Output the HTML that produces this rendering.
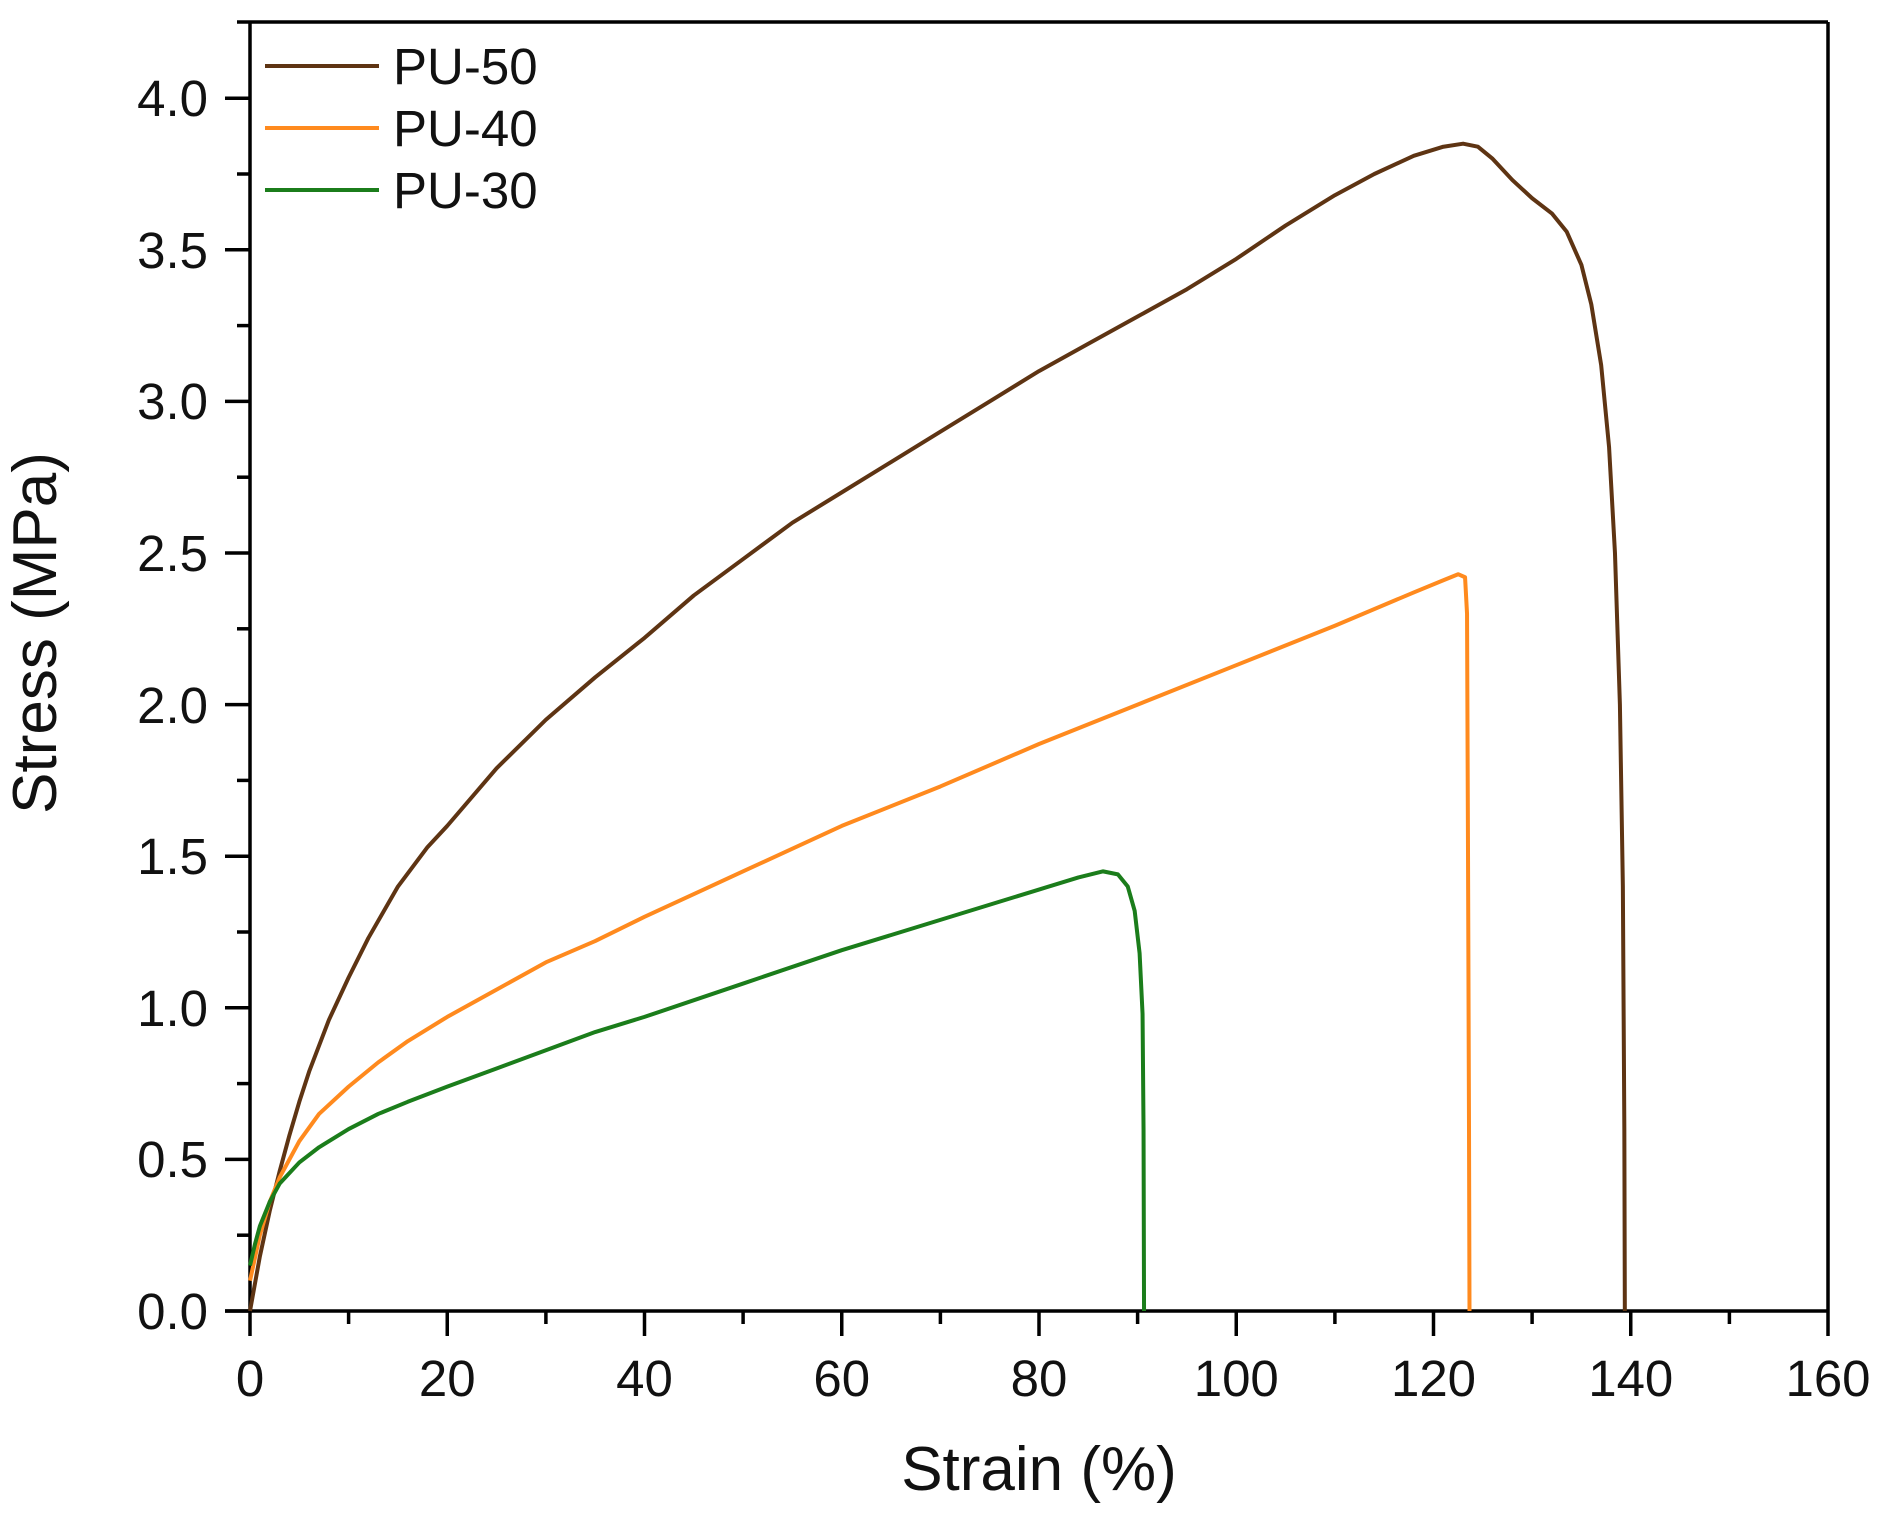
<!DOCTYPE html>
<html><head><meta charset="utf-8"><style>
html,body{margin:0;padding:0;background:#fff;}
svg{display:block;font-family:"Liberation Sans",sans-serif;}
</style></head><body>
<svg width="1881" height="1522" viewBox="0 0 1881 1522" xmlns="http://www.w3.org/2000/svg">
<rect width="1881" height="1522" fill="#fff"/>
<g stroke="#000" stroke-width="3.5" fill="none">
<line x1="250" y1="22" x2="250" y2="1311"/>
<line x1="237" y1="22" x2="1828" y2="22"/>
<line x1="225" y1="1311" x2="1828" y2="1311"/>
<line x1="1828" y1="22" x2="1828" y2="1336"/>
<line x1="225" y1="1311" x2="250" y2="1311"/>
<line x1="225" y1="1159.4" x2="250" y2="1159.4"/>
<line x1="225" y1="1007.8" x2="250" y2="1007.8"/>
<line x1="225" y1="856.2" x2="250" y2="856.2"/>
<line x1="225" y1="704.6" x2="250" y2="704.6"/>
<line x1="225" y1="553" x2="250" y2="553"/>
<line x1="225" y1="401.4" x2="250" y2="401.4"/>
<line x1="225" y1="249.8" x2="250" y2="249.8"/>
<line x1="225" y1="98.2" x2="250" y2="98.2"/>
<line x1="237" y1="1235.2" x2="250" y2="1235.2"/>
<line x1="237" y1="1083.6" x2="250" y2="1083.6"/>
<line x1="237" y1="932" x2="250" y2="932"/>
<line x1="237" y1="780.4" x2="250" y2="780.4"/>
<line x1="237" y1="628.8" x2="250" y2="628.8"/>
<line x1="237" y1="477.2" x2="250" y2="477.2"/>
<line x1="237" y1="325.6" x2="250" y2="325.6"/>
<line x1="237" y1="174" x2="250" y2="174"/>
<line x1="250" y1="1311" x2="250" y2="1336"/>
<line x1="447.25" y1="1311" x2="447.25" y2="1336"/>
<line x1="644.5" y1="1311" x2="644.5" y2="1336"/>
<line x1="841.75" y1="1311" x2="841.75" y2="1336"/>
<line x1="1039" y1="1311" x2="1039" y2="1336"/>
<line x1="1236.25" y1="1311" x2="1236.25" y2="1336"/>
<line x1="1433.5" y1="1311" x2="1433.5" y2="1336"/>
<line x1="1630.75" y1="1311" x2="1630.75" y2="1336"/>
<line x1="348.6" y1="1311" x2="348.6" y2="1324"/>
<line x1="545.9" y1="1311" x2="545.9" y2="1324"/>
<line x1="743.1" y1="1311" x2="743.1" y2="1324"/>
<line x1="940.4" y1="1311" x2="940.4" y2="1324"/>
<line x1="1137.6" y1="1311" x2="1137.6" y2="1324"/>
<line x1="1334.9" y1="1311" x2="1334.9" y2="1324"/>
<line x1="1532.1" y1="1311" x2="1532.1" y2="1324"/>
<line x1="1729.4" y1="1311" x2="1729.4" y2="1324"/>
</g>
<g font-size="51" text-anchor="end" fill="#111">
<text x="208" y="1329">0.0</text>
<text x="208" y="1177">0.5</text>
<text x="208" y="1026">1.0</text>
<text x="208" y="874">1.5</text>
<text x="208" y="723">2.0</text>
<text x="208" y="571">2.5</text>
<text x="208" y="419">3.0</text>
<text x="208" y="268">3.5</text>
<text x="208" y="116">4.0</text>
</g>
<g font-size="51" text-anchor="middle" fill="#111">
<text x="250" y="1396">0</text>
<text x="447.25" y="1396">20</text>
<text x="644.5" y="1396">40</text>
<text x="841.75" y="1396">60</text>
<text x="1039" y="1396">80</text>
<text x="1236.25" y="1396">100</text>
<text x="1433.5" y="1396">120</text>
<text x="1630.75" y="1396">140</text>
<text x="1828" y="1396">160</text>
</g>
<text x="1039" y="1490" font-size="62" text-anchor="middle" fill="#111">Strain (%)</text>
<text transform="translate(56,633) rotate(-90)" font-size="62" text-anchor="middle" fill="#111">Stress (MPa)</text>
<g stroke-width="4">
<line x1="265" y1="66" x2="379" y2="66" stroke="#5e3413"/>
<line x1="265" y1="128" x2="379" y2="128" stroke="#ff8a1e"/>
<line x1="265" y1="190" x2="379" y2="190" stroke="#1b7d1b"/>
</g>
<g font-size="51" fill="#111">
<text x="393" y="84">PU-50</text>
<text x="393" y="146">PU-40</text>
<text x="393" y="208">PU-30</text>
</g>
<g transform="translate(250,1311) scale(9.8625,-303.2)" fill="none" stroke-width="4" stroke-linejoin="round">
<polyline vector-effect="non-scaling-stroke" stroke="#5e3413" points="0,0 1,0.18 2,0.33 3,0.46 4,0.58 5,0.69 6,0.79 8,0.96 10,1.1 12,1.23 15,1.4 18,1.53 20,1.6 25,1.79 30,1.95 35,2.09 40,2.22 45,2.36 50,2.48 55,2.6 60,2.7 65,2.8 70,2.9 75,3.0 80,3.1 85,3.19 90,3.28 95,3.37 100,3.47 105,3.58 110,3.68 114,3.75 118,3.81 121,3.84 123,3.85 124.5,3.84 126,3.8 128,3.73 130,3.67 132,3.62 133.5,3.56 135,3.45 136,3.32 137,3.12 137.8,2.85 138.4,2.5 138.9,2.0 139.2,1.4 139.35,0.6 139.4,0"/>
<polyline vector-effect="non-scaling-stroke" stroke="#ff8a1e" points="0,0.1 1,0.25 2,0.36 3,0.44 5,0.56 7,0.65 10,0.74 13,0.82 16,0.89 20,0.97 25,1.06 30,1.15 35,1.22 40,1.3 50,1.45 60,1.6 70,1.73 80,1.87 90,2.0 100,2.13 110,2.26 118,2.37 121,2.41 122.5,2.43 123.2,2.42 123.4,2.3 123.5,1.5 123.6,0.6 123.65,0"/>
<polyline vector-effect="non-scaling-stroke" stroke="#1b7d1b" points="0,0.15 0.5,0.22 1,0.28 2,0.36 3,0.42 5,0.49 7,0.54 10,0.6 13,0.65 16,0.69 20,0.74 25,0.8 30,0.86 35,0.92 40,0.97 50,1.08 60,1.19 70,1.29 80,1.39 84,1.43 86.5,1.45 88,1.44 89,1.4 89.7,1.32 90.2,1.18 90.5,0.98 90.6,0.6 90.65,0"/>
</g>
</svg>
</body></html>
